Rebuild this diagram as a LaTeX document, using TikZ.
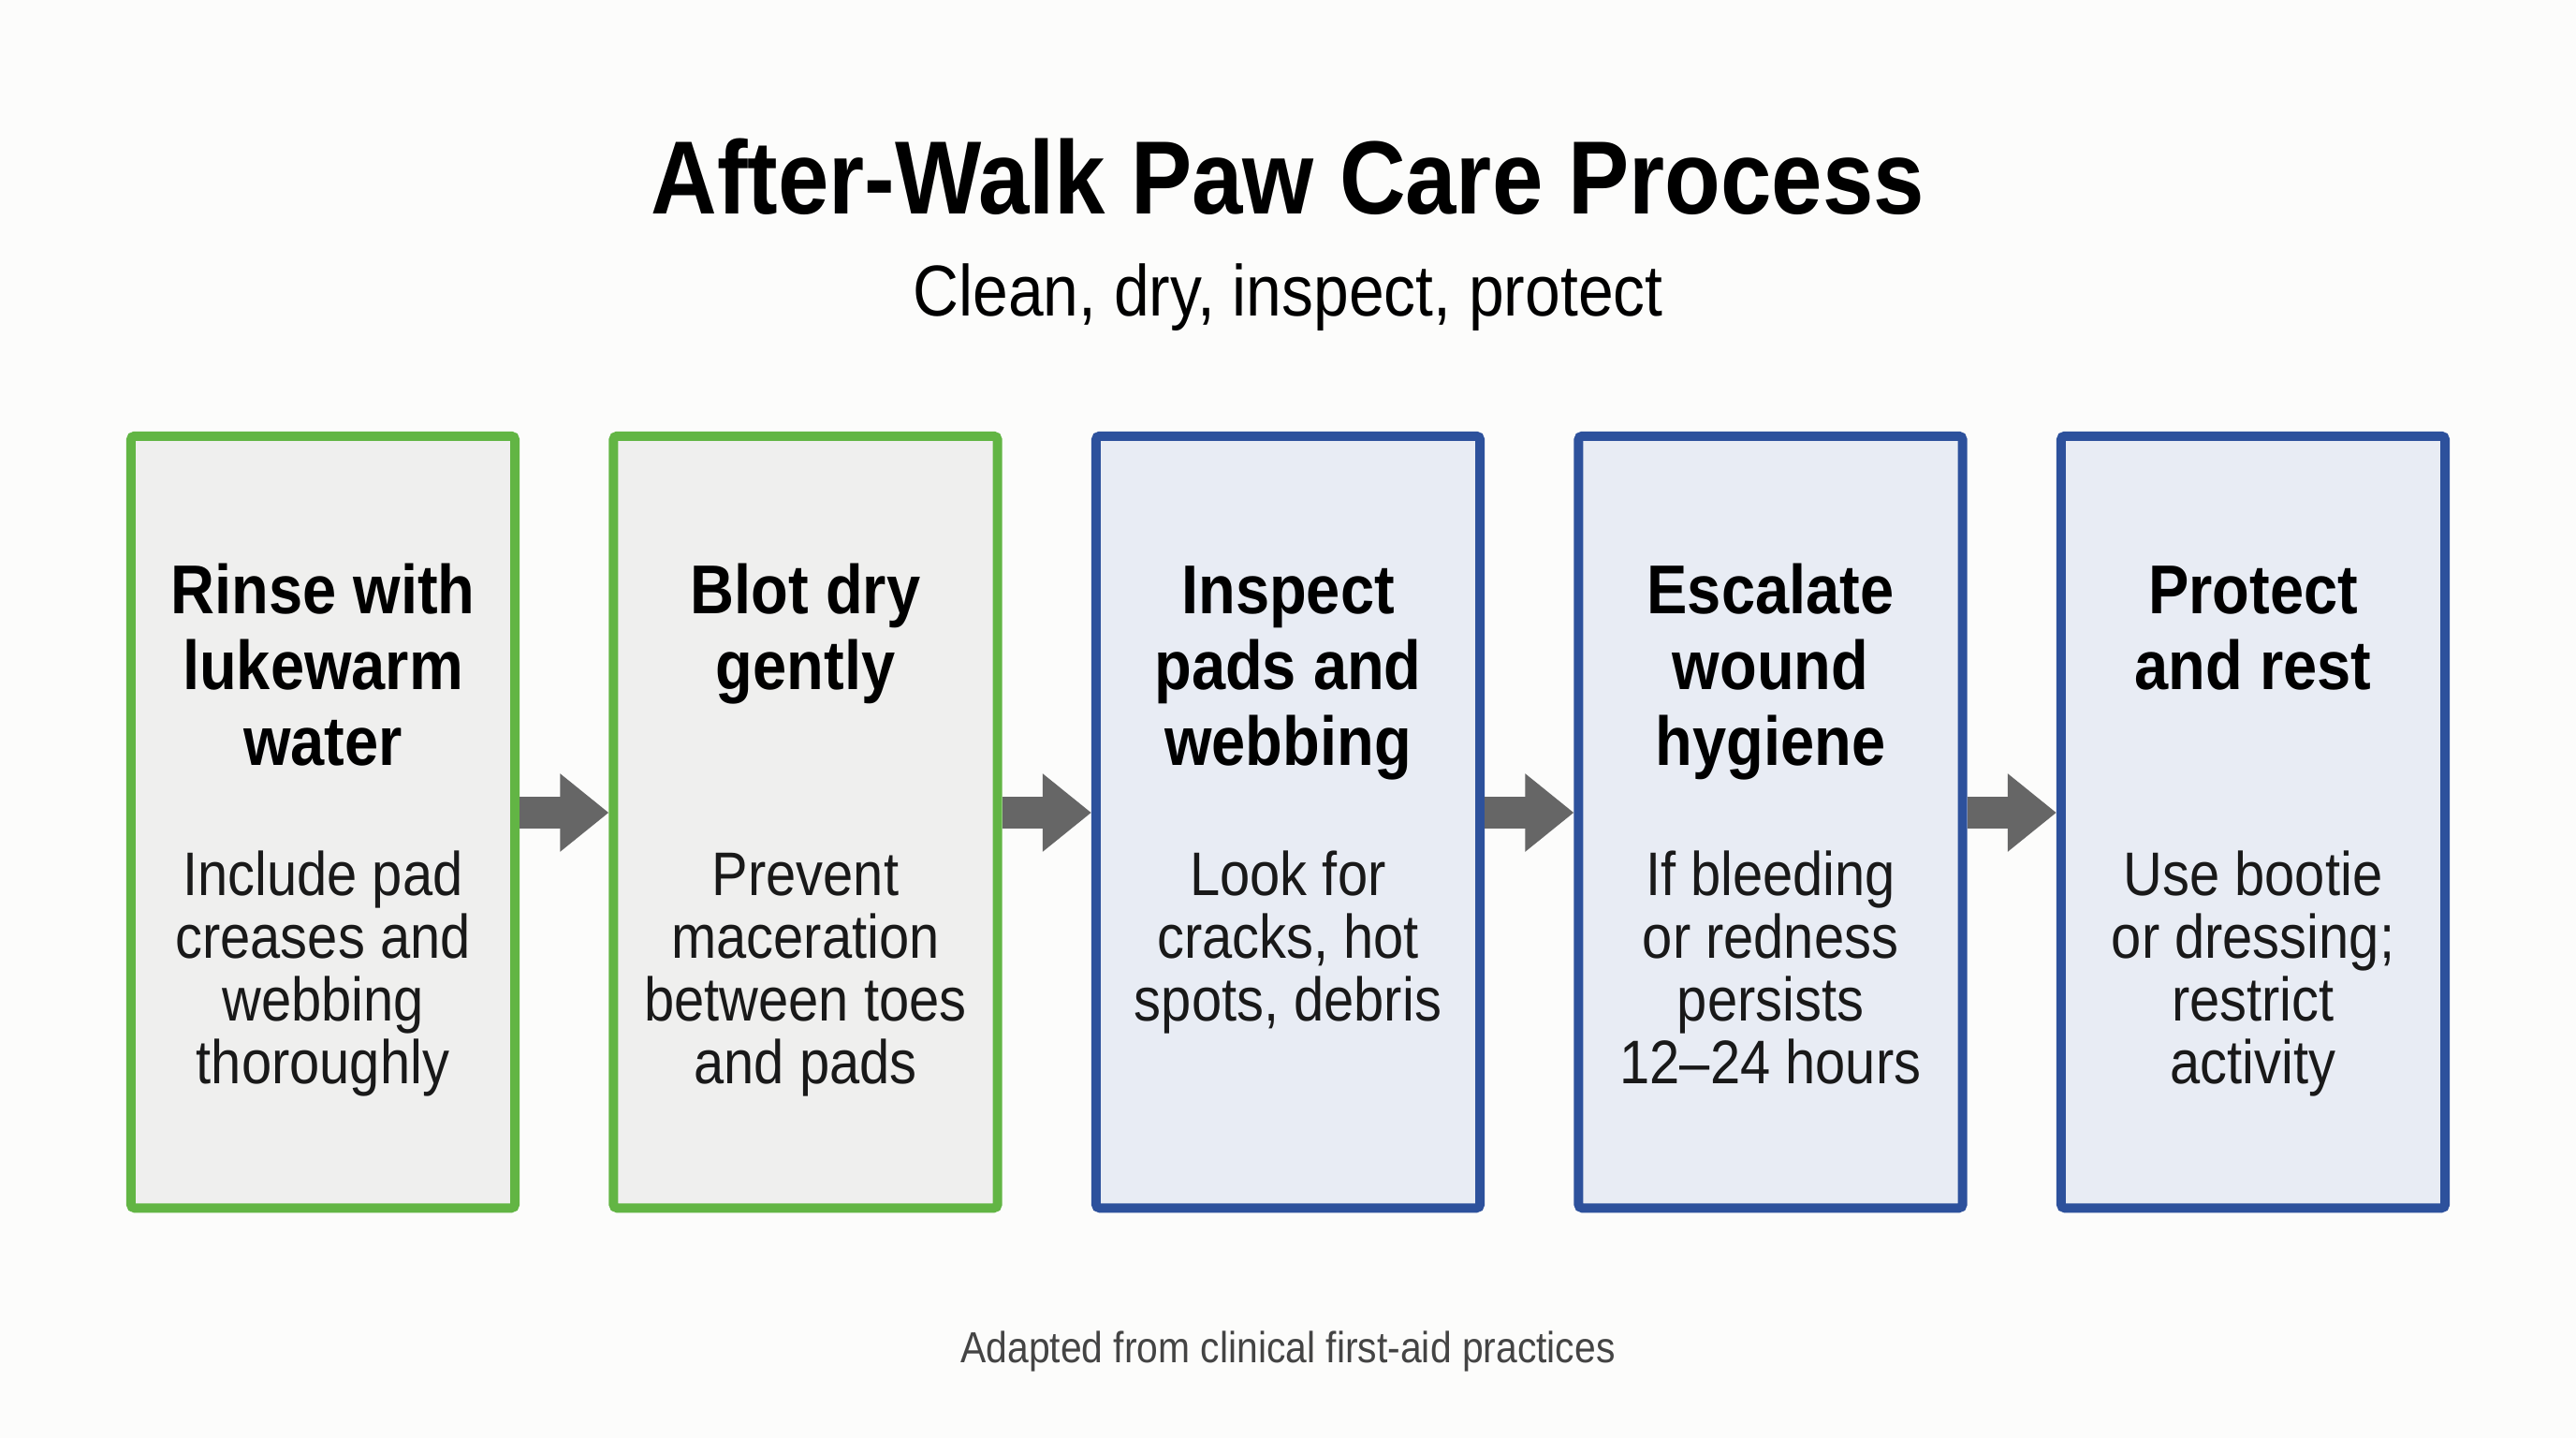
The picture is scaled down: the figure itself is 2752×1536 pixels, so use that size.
\documentclass[tikz,border=0pt]{standalone}
\usepackage{fontspec}
\setmainfont{Liberation Sans}
\newfontfamily\narrowfont[FakeStretch=0.88]{Liberation Sans}
\usetikzlibrary{arrows.meta}
\definecolor{bgc}{HTML}{FCFCFB}
\definecolor{grn}{HTML}{62B544}
\definecolor{blu}{HTML}{2D519C}
\definecolor{gfill}{HTML}{EFEFEE}
\definecolor{bfill}{HTML}{E8ECF4}
\definecolor{arrc}{HTML}{666666}
\definecolor{foot}{HTML}{444444}
\tikzset{
  stepbox/.style={rectangle, rounded corners=0.04cm, line width=0.1cm,
    minimum width=4.1cm, minimum height=8.24cm, inner sep=0pt},
  greenbox/.style={stepbox, draw=grn, fill=gfill},
  bluebox/.style={stepbox, draw=blu, fill=bfill},
  headtxt/.style={anchor=north, align=center, text=black, inner sep=0pt,
    font=\narrowfont\bfseries\fontsize{21pt}{23.05pt}\selectfont},
  bodytxt/.style={anchor=north, align=center, text=black!90, inner sep=0pt,
    font=\narrowfont\fontsize{18.7pt}{19.06pt}\selectfont},
  flowarrow/.style={draw=arrc, line width=0.34cm,
    -{Triangle[length=0.52cm, width=0.8cm]}}
}
\newcommand\topline{\rule{0pt}{1em}}
\begin{document}
\begin{tikzpicture}[x=0.01cm, y=-0.01cm]
\useasboundingbox[fill=bgc] (0,0) rectangle (2752,1536);

\node[anchor=base, font=\narrowfont\bfseries\fontsize{31.6pt}{34pt}\selectfont] (title) at (1376,228) {After-Walk Paw Care Process};
\node[anchor=base, font=\narrowfont\fontsize{21.9pt}{24pt}\selectfont] (subtitle) at (1376,337) {Clean, dry, inspect, protect};

\node[greenbox] (b1) at (345,878) {};
\node[greenbox] (b2) at (860.5,878) {};
\node[bluebox] (b3) at (1376,878) {};
\node[bluebox] (b4) at (1891.5,878) {};
\node[bluebox] (b5) at (2407,878) {};

% first heading baseline at y=655 (1em = 21pt = 73.8 units)
\node[headtxt] (h1) at (345,581) {\topline Rinse with\\lukewarm\\water};
\node[headtxt] (h2) at (860.5,581) {\topline Blot dry\\gently};
\node[headtxt] (h3) at (1376,581) {\topline Inspect\\pads and\\webbing};
\node[headtxt] (h4) at (1891.5,581) {\topline Escalate\\wound\\hygiene};
\node[headtxt] (h5) at (2407,581) {\topline Protect\\and rest};

% first body baseline at y=956 (1em = 18.7pt = 65.7 units)
\node[bodytxt] (t1) at (345,890) {\topline Include pad\\creases and\\webbing\\thoroughly};
\node[bodytxt] (t2) at (860.5,890) {\topline Prevent\\maceration\\between toes\\and pads};
\node[bodytxt] (t3) at (1376,890) {\topline Look for\\cracks, hot\\spots, debris};
\node[bodytxt] (t4) at (1891.5,890) {\topline If bleeding\\or redness\\persists\\12–24 hours};
\node[bodytxt] (t5) at (2407,890) {\topline Use bootie\\or dressing;\\restrict\\activity};

\draw[flowarrow] ([yshift=1mm]b1.east) -- ([yshift=1mm]b2.west);
\draw[flowarrow] ([yshift=1mm]b2.east) -- ([yshift=1mm]b3.west);
\draw[flowarrow] ([yshift=1mm]b3.east) -- ([yshift=1mm]b4.west);
\draw[flowarrow] ([yshift=1mm]b4.east) -- ([yshift=1mm]b5.west);

\node[anchor=base, text=foot, font=\narrowfont\fontsize{13.2pt}{15pt}\selectfont] (footer) at (1376,1455) {Adapted from clinical first-aid practices};
\end{tikzpicture}
\end{document}
